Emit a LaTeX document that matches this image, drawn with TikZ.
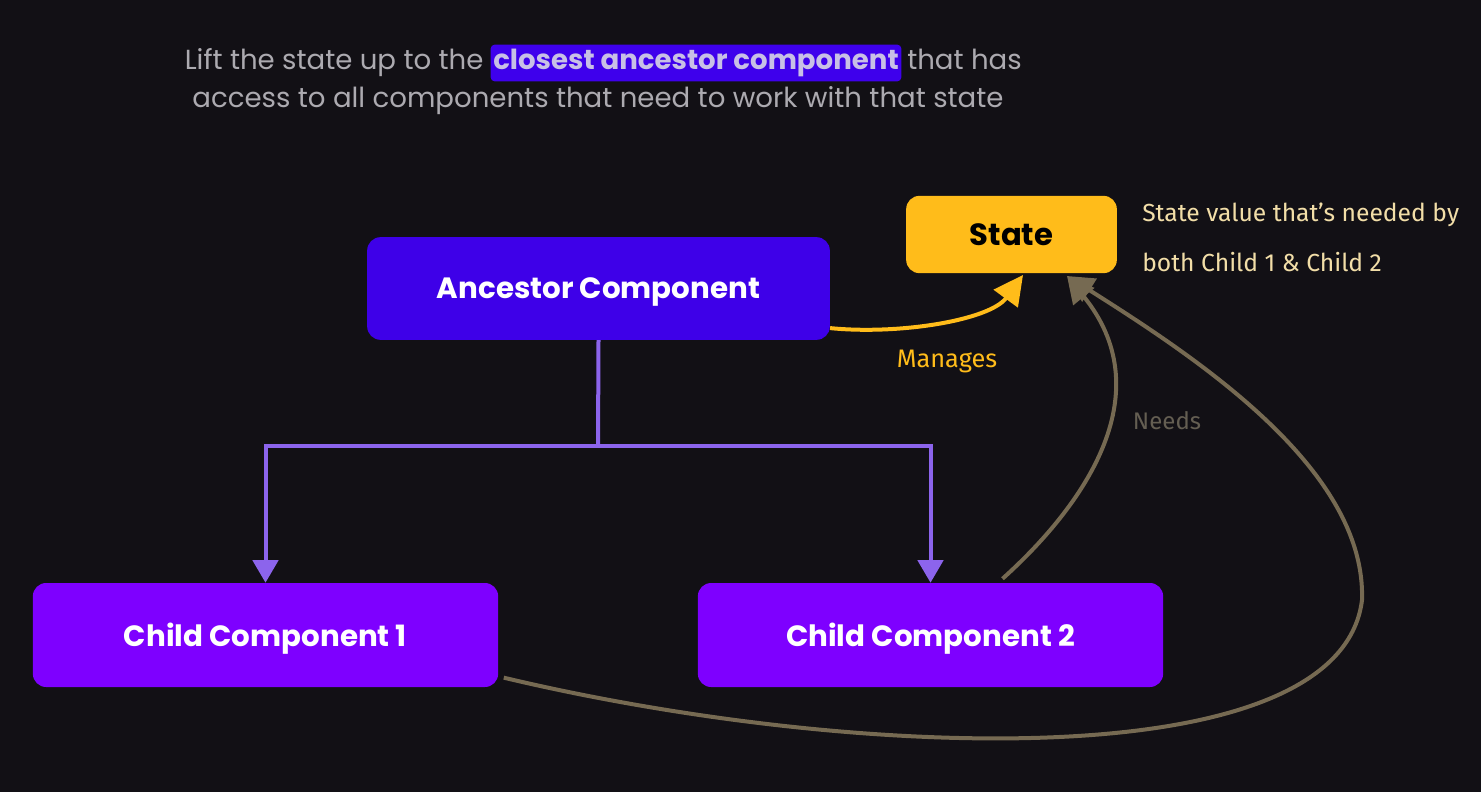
\documentclass[tikz,border=0pt]{standalone}
\usepackage{fontspec}
\setmainfont{Poppins}
\newfontfamily\handfont{Fira Sans}
\usetikzlibrary{arrows.meta}
\definecolor{bgc}{RGB}{18,16,21}
\definecolor{topgray}{RGB}{172,170,176}
\definecolor{hlblue}{RGB}{62,0,236}
\definecolor{hltext}{RGB}{200,192,230}
\definecolor{ancblue}{RGB}{62,0,232}
\definecolor{childpurple}{RGB}{126,0,255}
\definecolor{stateyellow}{RGB}{255,188,26}
\definecolor{notecol}{RGB}{242,222,168}
\definecolor{treecol}{RGB}{140,100,236}
\definecolor{needcol}{RGB}{118,106,82}
\definecolor{needtext}{RGB}{100,94,82}
\tikzset{
  box/.style={rounded corners=10pt, inner sep=0pt, text=white, text depth=0pt, font=\fontsize{22}{26}\selectfont\bfseries},
  treeline/.style={draw=treecol, line width=3pt, -{Triangle[width=19pt,length=17pt]}},
  manline/.style={draw=stateyellow, line width=3pt, -{Triangle[width=22pt,length=22pt]}},
  needline/.style={draw=needcol, line width=3pt, -{Triangle[width=20pt,length=20pt]}},
  toptext/.style={text=topgray, font=\fontsize{20.7}{24}\selectfont, inner sep=0pt},
  note/.style={text=notecol, font=\handfont\fontsize{18.5}{22}\selectfont, inner sep=0pt, anchor=west},
}
\begin{document}
\begin{tikzpicture}[x=0.75pt,y=-0.75pt]
\fill[bgc] (0,0) rectangle (1481,792);
\useasboundingbox (0,0) rectangle (1481,792);

% top text
\node[fill=hlblue, text=hltext, font=\fontsize{20.7}{24}\selectfont\bfseries, inner xsep=2pt, minimum height=25pt, rounded corners=3pt] (hl) at (696,63) {closest ancestor component};
\node[toptext, anchor=base east] (t1) at ([xshift=-5pt]hl.base west) {Lift the state up to the};
\node[toptext, anchor=base west] (t2) at ([xshift=4pt]hl.base east) {that has};
\node[toptext] (t3) at (598,101) {access to all components that need to work with that state};

% boxes
\node[box, fill=ancblue, minimum width=347pt, minimum height=77pt] (anc) at (598.5,288.5) {Ancestor Component};
\node[box, fill=stateyellow, text=black, font=\fontsize{23}{27}\selectfont\bfseries, minimum width=158pt, minimum height=58pt] (st) at (1011.5,234.5) {State};
\node[box, fill=childpurple, minimum width=349pt, minimum height=78pt] (c1) at (265.5,635) {Child Component 1};
\node[box, fill=childpurple, minimum width=349pt, minimum height=78pt] (c2) at (930.5,635) {Child Component 2};

% note
\node[note] (n1) at (1142,215) {State value that’s needed by};
\node[note] (n2) at (1142,262) {both Child 1 \& Child 2};

% tree connectors
\coordinate (jn) at (598,446);
\draw[draw=treecol, line width=3pt] (anc.south) -- (jn);
\draw[treeline] (jn) -| (c1.north);
\draw[treeline] (jn) -| (c2.north);

% manages
\coordinate (mtip) at (1023,275);
\draw[manline] ([yshift=9pt]anc.south east) .. controls (900,335) and (990,320) .. (mtip);
\node[text=stateyellow, font=\handfont\fontsize{19}{23}\selectfont, inner sep=0pt] (man) at (947,361) {Manages};

% needs
\coordinate (ntip) at (1067,276);
\draw[needline] ([xshift=54pt,yshift=3pt]c2.north) .. controls (1090,500) and (1160,390) .. (ntip);
\draw[needline] ([xshift=4pt,yshift=-32pt]c1.east) .. controls (850,760) and (1340,780) .. (1362,600) .. controls (1366,470) and (1200,360) .. (ntip);
\node[text=needtext, font=\handfont\fontsize{18}{22}\selectfont, inner sep=0pt] (nd) at (1167,421) {Needs};
\end{tikzpicture}
\end{document}
